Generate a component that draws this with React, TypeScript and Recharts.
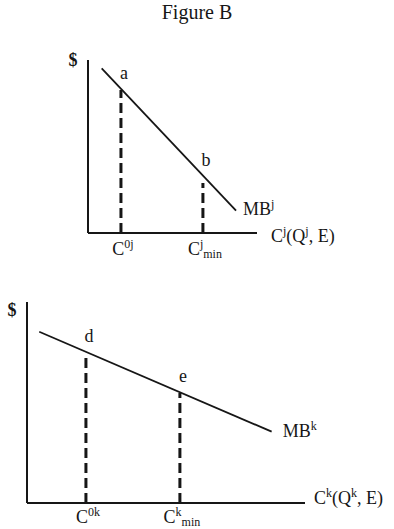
import React from 'react';
import { ComposedChart, Line, XAxis, YAxis, ReferenceLine, ReferenceDot } from 'recharts';

type Seg = [string, 'n' | 'sup' | 'sub'];

// upper panel (firm j)
const mbJ = [{ x: 0.81, y: 9.52 }, { x: 8.76, y: 1.29 }];
const pointsJ = [
  { name: 'a', x: 1.95, y: 8.34, dropTop: 8.27 },
  { name: 'b', x: 6.8, y: 3.32, dropTop: 2.89 },
];
const ticksJ = [1.95, 6.8];
const tickLabelsJ: Seg[][] = [
  [['C', 'n'], ['0j', 'sup']],
  [['C', 'n'], ['j', 'sup'], ['min', 'sub']],
];
const axisLabelJ: Seg[] = [['C', 'n'], ['j', 'sup'], ['(Q', 'n'], ['j', 'sup'], [', E)', 'n']];
const curveLabelJ: Seg[] = [['MB', 'n'], ['j', 'sup']];

// lower panel (firm k)
const mbK = [{ x: 0.44, y: 8.52 }, { x: 8.8, y: 3.55 }];
const pointsK = [
  { name: 'd', x: 2.12, y: 7.52, dropTop: 7.21 },
  { name: 'e', x: 5.5, y: 5.51, dropTop: 5.47 },
];
const ticksK = [2.12, 5.5];
const tickLabelsK: Seg[][] = [
  [['C', 'n'], ['0k', 'sup']],
  [['C', 'n'], ['k', 'sup'], ['min', 'sub']],
];
const axisLabelK: Seg[] = [['C', 'n'], ['k', 'sup'], ['(Q', 'n'], ['k', 'sup'], [', E)', 'n']];
const curveLabelK: Seg[] = [['MB', 'n'], ['k', 'sup']];

const INK = '#161616';
const FONT = '"Liberation Serif", "DejaVu Serif", serif';

const Rich = ({ x, y, segs, anchor = 'start', size = 18, bold = false }: any) => {
  let shift = 0;
  return (
    <text x={x} y={y} textAnchor={anchor} fontSize={size} fontFamily={FONT} fill={INK} fontWeight={bold ? 700 : 400}>
      {segs.map(([t, k]: Seg, i: number) => {
        const target = k === 'sup' ? -7 : k === 'sub' ? 3 : 0;
        const dy = target - shift;
        shift = target;
        return (
          <tspan key={i} dy={dy} fontSize={k === 'n' ? size : Math.round(size * 0.66)}>
            {t}
          </tspan>
        );
      })}
    </text>
  );
};

interface PanelProps {
  width: number;
  height: number;
  margin: { top: number; right: number; bottom: number; left: number };
  axisHeight: number;
  tickDy: number;
  mb: { x: number; y: number }[];
  points: { name: string; x: number; y: number; dropTop: number }[];
  ticks: number[];
  tickLabels: Seg[][];
  axisLabel: Seg[];
  curveLabel: Seg[];
  dollarDy: number;
  curveOffset: [number, number];
  axisOffset: [number, number];
}

const Panel = (p: PanelProps) => {
  const last = p.mb[p.mb.length - 1];
  const renderTick = (props: any) => (
    <Rich x={props.x + 2} y={props.y + p.tickDy} segs={p.tickLabels[props.index] || []} anchor="middle" />
  );
  return (
    <ComposedChart width={p.width} height={p.height} margin={p.margin}>
      <XAxis
        type="number"
        dataKey="x"
        domain={[0, 10]}
        ticks={p.ticks}
        tick={renderTick}
        tickLine={false}
        tickSize={0}
        tickMargin={0}
        height={p.axisHeight}
        axisLine={{ stroke: INK, strokeWidth: 2 }}
        interval={0}
      />
      <YAxis type="number" domain={[0, 10]} hide />
      {/* vertical $ axis */}
      <ReferenceLine
        segment={[{ x: 0, y: 0 }, { x: 0, y: 10 }]}
        stroke={INK}
        strokeWidth={2}
        ifOverflow="visible"
      />
      <Line
        data={p.mb}
        dataKey="y"
        type="linear"
        stroke={INK}
        strokeWidth={1.8}
        dot={false}
        isAnimationActive={false}
      />
      {p.points.map((pt) => (
        <ReferenceLine
          key={'drop-' + pt.name}
          segment={[{ x: pt.x, y: 0 }, { x: pt.x, y: pt.dropTop }]}
          stroke={INK}
          strokeWidth={3}
          strokeDasharray="10 5"
          ifOverflow="visible"
        />
      ))}
      {p.points.map((pt) => (
        <ReferenceDot
          key={'lbl-' + pt.name}
          x={pt.x}
          y={pt.y}
          r={0}
          ifOverflow="visible"
          shape={(s: any) => <Rich x={s.cx + 3} y={s.cy - 10} segs={[[pt.name, 'n']]} anchor="middle" />}
        />
      ))}
      <ReferenceDot
        x={0}
        y={10}
        r={0}
        ifOverflow="visible"
        shape={(s: any) => <Rich x={s.cx - 15} y={s.cy + p.dollarDy} segs={[['$', 'n']]} anchor="middle" bold />}
      />
      <ReferenceDot
        x={last.x}
        y={last.y}
        r={0}
        ifOverflow="visible"
        shape={(s: any) => (
          <Rich x={s.cx + p.curveOffset[0]} y={s.cy + p.curveOffset[1]} segs={p.curveLabel} />
        )}
      />
      <ReferenceDot
        x={10}
        y={0}
        r={0}
        ifOverflow="visible"
        shape={(s: any) => <Rich x={s.cx + p.axisOffset[0]} y={s.cy + p.axisOffset[1]} segs={p.axisLabel} />}
      />
    </ComposedChart>
  );
};

export default function App() {
  return (
    <div style={{ position: 'absolute', left: 0, top: 0, width: 394, height: 529, background: '#fff' }}>
      <div
        style={{
          position: 'absolute',
          left: 0,
          top: 1,
          width: 394,
          textAlign: 'center',
          fontFamily: FONT,
          fontSize: 20,
          color: INK,
        }}
      >
        Figure B
      </div>
      <div style={{ position: 'absolute', left: 0, top: 0 }}>
        <Panel
          width={394}
          height={265}
          margin={{ top: 60, right: 137, bottom: 0, left: 88 }}
          axisHeight={32}
          tickDy={22}
          mb={mbJ}
          points={pointsJ}
          ticks={ticksJ}
          tickLabels={tickLabelsJ}
          axisLabel={axisLabelJ}
          curveLabel={curveLabelJ}
          dollarDy={6}
          curveOffset={[7, 4]}
          axisOffset={[14, 9]}
        />
      </div>
      <div style={{ position: 'absolute', left: 0, top: 270 }}>
        <Panel
          width={394}
          height={259}
          margin={{ top: 32, right: 89, bottom: 0, left: 27 }}
          axisHeight={26}
          tickDy={20}
          mb={mbK}
          points={pointsK}
          ticks={ticksK}
          tickLabels={tickLabelsK}
          axisLabel={axisLabelK}
          curveLabel={curveLabelK}
          dollarDy={14}
          curveOffset={[11, 5]}
          axisOffset={[9, 1]}
        />
      </div>
    </div>
  );
}
